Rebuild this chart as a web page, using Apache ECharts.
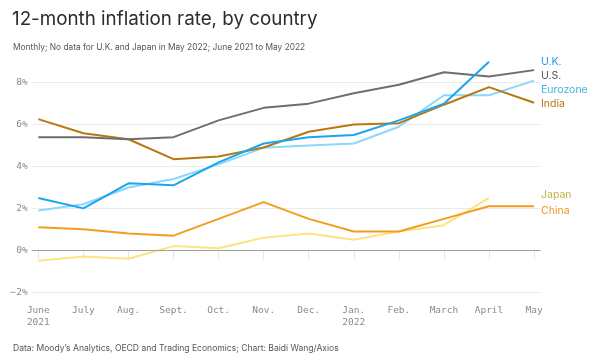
<!DOCTYPE html>
<html><head><meta charset="utf-8">
<script src="https://cdn.jsdelivr.net/npm/echarts@6/dist/echarts.min.js"></script>
<style>html,body{margin:0;padding:0;background:#fff}#c{width:600px;height:360px}</style>
</head><body><div id="c"></div>
<script>
const months = ['June\n2021','July','Aug.','Sept.','Oct.','Nov.','Dec.','Jan.\n2022','Feb.','March','April','May'];
const us       = [5.4, 5.4, 5.3, 5.4, 6.2, 6.8, 7.0, 7.5, 7.9, 8.5, 8.3, 8.6];
const uk       = [2.5, 2.0, 3.2, 3.1, 4.2, 5.1, 5.4, 5.5, 6.2, 7.0, 9.0, null];
const eurozone = [1.9, 2.2, 3.0, 3.4, 4.1, 4.9, 5.0, 5.1, 5.9, 7.4, 7.4, 8.1];
const india    = [6.26, 5.59, 5.3, 4.35, 4.48, 4.91, 5.66, 6.01, 6.07, 6.95, 7.79, 7.04];
const china    = [1.1, 1.0, 0.8, 0.7, 1.5, 2.3, 1.5, 0.9, 0.9, 1.5, 2.1, 2.1];
const japan    = [-0.5, -0.3, -0.4, 0.2, 0.1, 0.6, 0.8, 0.5, 0.9, 1.2, 2.5, null];
const yTicks = [-2, 0, 2, 4, 6, 8];

const toPts = arr => arr.map((v, i) => [i, v]).filter(p => p[1] !== null);
const idx = months.map((m, i) => i);
const mono = '"DejaVu Sans Mono", "Liberation Mono", monospace';
const sans = 'Inter, Roboto, "Noto Sans", sans-serif';

function line(name, data, color, z) {
  return { name, type: 'line', data: toPts(data), symbol: 'none', clip: false, z: z,
    lineStyle: { color, width: 2 }, itemStyle: { color }, silent: true, animation: false };
}

const series = [
  line('Japan', japan, '#fde47f', 2),
  line('China', china, '#f39c1f', 3),
  line('Eurozone', eurozone, '#8ad8fb', 4),
  line('India', india, '#b8780e', 5),
  line('U.S.', us, '#6e6e6e', 6),
  line('U.K.', uk, '#1aa5ef', 7)
];
series[0].markLine = { silent: true, symbol: 'none', label: { show: false },
  lineStyle: { color: '#a0a0a0', width: 1, type: 'solid' }, data: [{ yAxis: 0 }], animation: false };

const labels = [
  ['U.K.', '#1a9fe4', 62.5],
  ['U.S.', '#555555', 76],
  ['Eurozone', '#3fb3e6', 90],
  ['India', '#b0760f', 104],
  ['Japan', '#c4b447', 195.5],
  ['China', '#f0982a', 211]
];

const chart = echarts.init(document.getElementById('c'), null, { renderer: 'canvas' });
chart.setOption({
  animation: false,
  backgroundColor: '#fff',
  title: [
    { text: '12-month inflation rate, by country', left: 7, top: 5,
      textStyle: { fontFamily: sans, fontSize: 18.8, fontWeight: 400, color: '#2b2b2b' } },
    { text: 'Monthly; No data for U.K. and Japan in May 2022; June 2021 to May 2022', left: 8, top: 38,
      textStyle: { fontFamily: sans, fontSize: 8.35, fontWeight: 400, color: '#555' } },
    { text: 'Data: Moody\u2019s Analytics, OECD and Trading Economics; Chart: Baidi Wang/Axios', left: 8, top: 339,
      textStyle: { fontFamily: sans, fontSize: 8.55, fontWeight: 400, color: '#555' } }
  ],
  grid: { left: 31.7, right: 59.3, top: 82.7, bottom: 67.8, containLabel: false },
  xAxis: {
    type: 'value', min: -0.147, max: 11.147,
    axisLine: { show: false },
    splitLine: { show: false },
    axisTick: { show: true, customValues: idx, length: 9, lineStyle: { color: '#e4e4e4', width: 1 } },
    axisLabel: { customValues: idx, formatter: v => months[Math.round(v)], margin: 12,
      fontFamily: mono, fontSize: 9.5, color: '#8a8a8a', lineHeight: 12, align: 'center' }
  },
  yAxis: {
    type: 'value', min: -2, max: 8, interval: 2,
    axisLine: { show: false }, axisTick: { show: false },
    splitLine: { lineStyle: { color: '#ebebeb', width: 1 } },
    axisLabel: { formatter: v => (v < 0 ? '\u2212' + Math.abs(v) : v) + '%', margin: 4,
      fontFamily: mono, fontSize: 9.5, color: '#8a8a8a' }
  },
  series: series,
  graphic: labels.map(l => ({ type: 'text', left: 541, top: l[2] - 6, silent: true,
    style: { text: l[0], fill: l[1], font: '400 10.5px ' + sans } }))
});
</script></body></html>
